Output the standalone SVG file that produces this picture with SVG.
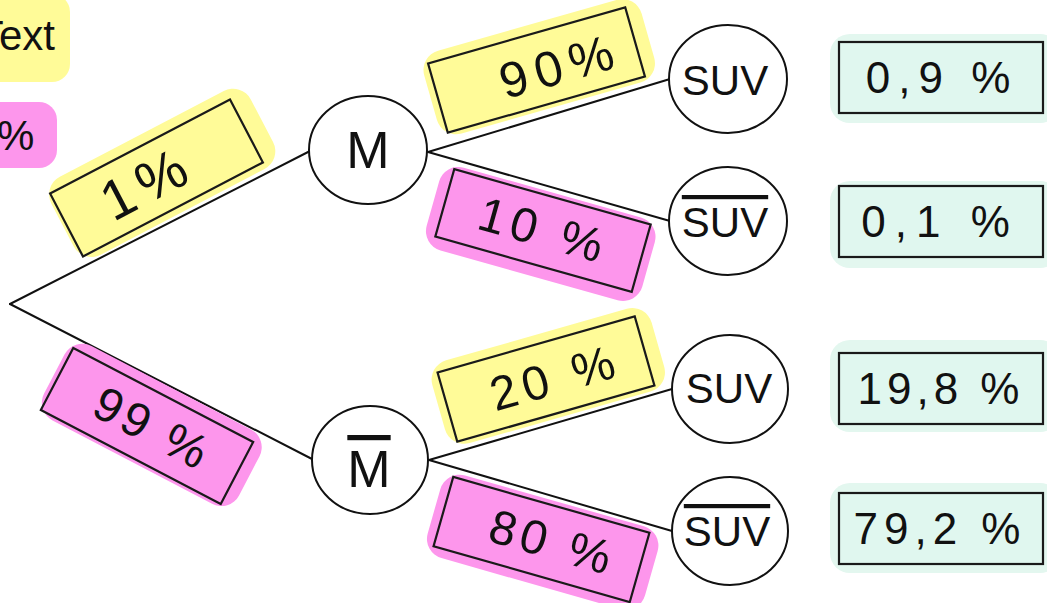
<svg xmlns="http://www.w3.org/2000/svg" width="1047" height="603" viewBox="0 0 1047 603">
<style>
.bg{fill:#ffffff}
.conn{stroke:#111;stroke-width:2;fill:none;stroke-linecap:round}
.node{fill:#fff;stroke:#111;stroke-width:2}
.box{stroke:#1a1a1a;stroke-width:2.2}
.yel{fill:#fffb98}
.pink{fill:#fd96ec}
.mint{fill:#e0f7ef}
.hy{fill:#fffb98}
.hp{fill:#fd96ec}
.hm{fill:#e3f7ef}
.t{font-family:"Liberation Sans","DejaVu Sans",sans-serif;fill:#111;text-anchor:middle}
.lab{font-size:50px}
.res{font-size:44px}
.nd{font-size:42px}
.ov{text-decoration:overline}
</style>
<rect class="bg" x="0" y="0" width="1047" height="603"/>

<g id="legend-text">
  <rect class="hy" x="-30" y="-6" width="100" height="88" rx="18"/>
  <text x="-22" y="50" style="font-family:'Liberation Sans',sans-serif;font-size:42px;fill:#111">Text</text>
</g>
<g id="legend-percent">
  <rect class="hp" x="-30" y="102" width="87" height="66" rx="18"/>
  <text x="-3" y="150" style="font-family:'Liberation Sans',sans-serif;font-size:42px;fill:#111">%</text>
</g>

<g id="connectors">
  <line class="conn" x1="10" y1="304" x2="310" y2="151"/>
  <line class="conn" x1="10" y1="304" x2="312" y2="459"/>
  <line class="conn" x1="428" y1="152" x2="670" y2="79"/>
  <line class="conn" x1="428" y1="152" x2="670" y2="221"/>
  <line class="conn" x1="429" y1="460" x2="672" y2="389"/>
  <line class="conn" x1="429" y1="460" x2="672" y2="531"/>
</g>

<g id="label-1">
  <g transform="translate(160,174) rotate(-27.6)">
    <rect class="hy" x="-110" y="-44" width="225" height="88" rx="20"/>
  </g>
  <g transform="translate(156.5,178) rotate(-27.6)">
    <rect class="box yel" x="-101.5" y="-35.5" width="203" height="71"/>
  </g>
  <text class="t" style="font-size:56px;letter-spacing:8px" transform="translate(147,182) rotate(-27.6)" y="20">1%</text>
</g>

<g id="label-90">
  <g transform="translate(538,66) rotate(-15.9)">
    <rect class="hy" x="-112" y="-42" width="226" height="86" rx="20"/>
  </g>
  <g transform="translate(536.5,70) rotate(-15.9)">
    <rect class="box yel" x="-102.5" y="-36" width="205" height="72"/>
  </g>
  <text class="t lab" style="letter-spacing:8px" transform="translate(560,65) rotate(-15.9)" y="18">90%</text>
</g>

<g id="label-10">
  <g transform="translate(541,233) rotate(15.7)">
    <rect class="hp" x="-112" y="-42" width="224" height="86" rx="20"/>
  </g>
  <g transform="translate(543,230.5) rotate(15.7)">
    <rect class="box pink" x="-102" y="-35" width="204" height="70"/>
  </g>
  <text class="t" style="font-size:48px;letter-spacing:6px" transform="translate(544,230) rotate(15.7)" y="17">10 %</text>
</g>

<g id="label-99">
  <g transform="translate(150,424) rotate(27.6)">
    <rect class="hp" x="-108" y="-42" width="220" height="84" rx="20"/>
  </g>
  <g transform="translate(147,426) rotate(27.6)">
    <rect class="box pink" x="-101.5" y="-35" width="203" height="70"/>
  </g>
  <text class="t" style="font-size:48px;letter-spacing:4px" transform="translate(153,428) rotate(27.6)" y="17">99 %</text>
</g>

<g id="label-20">
  <g transform="translate(548,375) rotate(-15.9)">
    <rect class="hy" x="-114" y="-42" width="228" height="86" rx="20"/>
  </g>
  <g transform="translate(546,379) rotate(-15.9)">
    <rect class="box yel" x="-102.5" y="-36" width="205" height="72"/>
  </g>
  <text class="t" style="font-size:48px;letter-spacing:6px" transform="translate(555,377) rotate(-15.9)" y="17">20 %</text>
</g>

<g id="label-80">
  <g transform="translate(542,541) rotate(15.9)">
    <rect class="hp" x="-112" y="-42" width="226" height="86" rx="20"/>
  </g>
  <g transform="translate(541.5,539.5) rotate(15.9)">
    <rect class="box pink" x="-102" y="-36" width="204" height="72"/>
  </g>
  <text class="t" style="font-size:48px;letter-spacing:5px" transform="translate(553,542) rotate(15.9)" y="17">80 %</text>
</g>

<g id="node-M">
  <ellipse class="node" cx="368" cy="150" rx="59" ry="54"/>
  <text class="t" style="font-size:52px" x="368" y="168">M</text>
</g>
<g id="node-notM">
  <ellipse class="node" cx="370" cy="460" rx="58" ry="54"/>
  <text class="t ov" style="font-size:52px" x="369" y="487">M</text>
</g>

<g id="node-SUV1">
  <ellipse class="node" cx="728" cy="79" rx="59" ry="54"/>
  <text class="t nd" x="725" y="95">SUV</text>
</g>
<g id="node-notSUV1">
  <ellipse class="node" cx="728" cy="221" rx="59" ry="54"/>
  <text class="t nd ov" x="725" y="237">SUV</text>
</g>
<g id="node-SUV2">
  <ellipse class="node" cx="730" cy="389" rx="58" ry="54"/>
  <text class="t nd" x="729" y="403">SUV</text>
</g>
<g id="node-notSUV2">
  <ellipse class="node" cx="730" cy="531" rx="58" ry="54"/>
  <text class="t nd ov" x="727" y="546">SUV</text>
</g>

<g id="result-1">
  <rect class="hm" x="830" y="34" width="230" height="89" rx="20"/>
  <rect class="box mint" x="839" y="42" width="204" height="71"/>
  <text class="t res" style="letter-spacing:8px" x="942" y="93">0,9 %</text>
</g>
<g id="result-2">
  <rect class="hm" x="830" y="181" width="230" height="87" rx="20"/>
  <rect class="box mint" x="839" y="186" width="204" height="71"/>
  <text class="t res" style="letter-spacing:9px" x="940" y="237">0,1 %</text>
</g>
<g id="result-3">
  <rect class="hm" x="830" y="340" width="230" height="92" rx="20"/>
  <rect class="box mint" x="839" y="353" width="204" height="71"/>
  <text class="t res" style="letter-spacing:5px" x="941" y="404">19,8 %</text>
</g>
<g id="result-4">
  <rect class="hm" x="830" y="483" width="230" height="90" rx="20"/>
  <rect class="box mint" x="839" y="493" width="204" height="71"/>
  <text class="t res" style="letter-spacing:6px" x="940" y="544">79,2 %</text>
</g>
</svg>
